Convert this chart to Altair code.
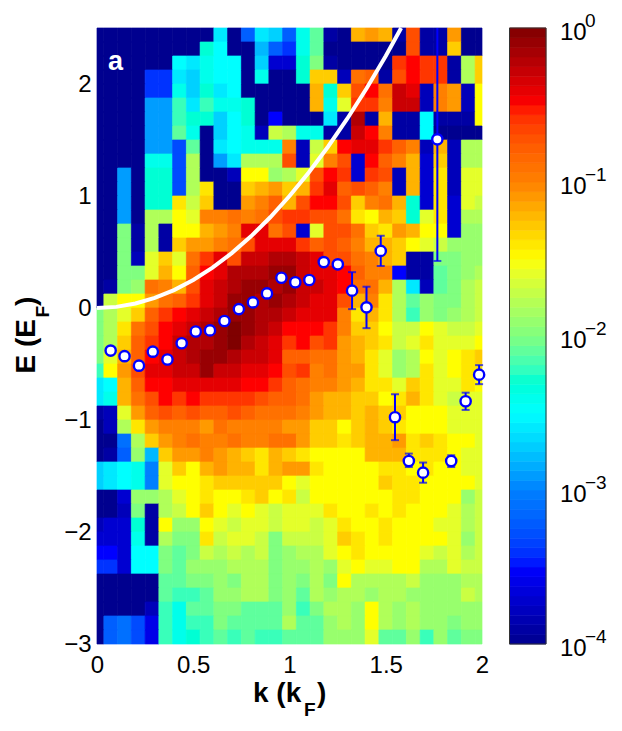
import altair as alt
import pandas as pd

# Heat-map levels: tenths of a decade above 1e-4, one list per energy row (top to bottom), 29 k columns
r00 = [0,0,0,0,0,0,0,0,0,14,0,8,14,13,8,16,19,1,0,28,29,28,1,33,1,1,29,0,0]
r01 = [0,0,0,0,0,0,0,0,17,15,0,0,12,8,6,16,19,0,0,0,0,0,0,33,1,1,27,0,0]
r02 = [0,0,0,0,0,0,15,14,16,15,15,0,13,3,3,17,20,1,0,0,0,0,34,35,34,34,1,22,27]
r03 = [0,0,0,0,6,6,14,13,16,15,15,0,16,0,0,17,27,27,2,31,32,1,33,35,34,34,1,22,27]
r04 = [0,0,0,0,6,6,16,13,17,14,15,0,0,0,0,0,28,17,27,33,35,31,37,36,2,30,29,2,25]
r05 = [0,0,0,0,11,11,18,14,18,16,16,17,0,0,0,0,28,16,24,34,34,30,37,37,2,30,29,2,25]
r06 = [0,0,0,0,11,11,18,17,17,13,15,17,0,5,0,0,0,14,1,38,1,28,1,1,15,1,1,1,25]
r07 = [0,0,0,0,11,11,19,16,0,13,15,16,2,23,22,16,16,1,1,37,35,30,1,1,15,0,0,0,0]
r08 = [0,0,0,0,11,11,7,19,0,14,15,16,16,16,30,2,23,27,35,36,36,34,32,30,2,28,2,22,22]
r09 = [0,0,0,0,16,16,7,22,0,11,14,22,22,22,33,2,24,30,33,3,35,32,30,28,3,27,2,22,22]
r10 = [0,0,11,0,17,17,7,22,0,0,2,25,25,21,22,24,33,35,34,3,34,33,2,28,3,26,2,24,24]
r11 = [0,0,11,0,17,17,7,22,26,0,0,27,28,29,27,28,34,36,32,33,32,30,2,28,3,26,2,24,24]
r12 = [0,0,11,0,17,17,26,23,27,0,0,29,30,32,28,33,35,35,33,27,30,31,28,17,3,26,3,24,23]
r13 = [0,0,11,0,22,22,25,24,30,30,31,30,31,33,34,34,33,33,31,26,25,28,27,17,24,26,3,22,22]
r14 = [0,0,20,1,22,1,25,25,28,29,30,36,36,31,33,3,24,33,33,31,27,26,29,28,25,25,3,21,21]
r15 = [0,0,20,1,22,1,27,29,29,30,31,33,36,36,36,34,32,33,32,30,28,28,27,25,24,23,21,21,21]
r16 = [0,0,20,2,24,27,24,31,34,36,33,37,37,38,38,37,36,33,33,31,30,28,27,1,1,20,20,21,21]
r17 = [0,0,20,20,24,28,25,32,35,36,38,38,38,39,39,37,36,36,35,32,30,30,5,1,1,19,20,21,22]
r18 = [0,1,20,21,31,30,28,33,36,37,38,39,39,38,39,37,37,36,35,31,31,28,22,14,2,19,20,22,23]
r19 = [0,23,25,25,29,31,32,34,36,37,39,39,38,39,38,37,36,36,33,28,30,26,22,19,21,20,20,22,23]
r20 = [20,22,24,27,32,34,35,36,37,38,39,39,38,38,37,36,36,36,30,26,28,26,22,18,21,20,21,22,23]
r21 = [20,22,26,31,33,35,36,37,38,39,40,39,38,37,35,35,35,34,30,27,27,25,23,23,25,24,23,23,24]
r22 = [20,22,27,32,34,35,37,38,38,39,40,38,37,36,34,35,33,34,29,28,27,26,23,24,26,24,24,24,25]
r23 = [20,24,28,32,35,36,37,38,39,39,38,37,37,36,32,32,31,31,29,28,26,24,21,22,25,24,25,26,27]
r24 = [18,25,29,33,36,36,37,37,39,37,37,36,36,35,33,34,30,31,29,29,26,24,21,22,26,24,25,26,26]
r25 = [14,15,28,32,35,35,36,36,36,36,36,35,35,34,32,31,30,30,29,28,26,26,24,27,26,24,24,26,25]
r26 = [14,16,28,31,33,35,34,35,34,34,34,34,33,32,32,31,29,28,28,27,27,25,26,28,26,24,23,24,24]
r27 = [1,2,24,29,32,33,32,33,32,32,33,32,31,31,31,30,29,28,28,27,28,27,27,25,25,25,24,24,24]
r28 = [0,2,22,26,29,30,30,30,29,31,30,30,30,30,29,29,27,27,25,27,28,27,26,25,25,25,24,24,24]
r29 = [0,0,9,22,27,29,30,31,30,30,31,30,30,31,31,29,27,27,26,27,28,28,29,26,27,26,25,25,24]
r30 = [0,1,8,21,12,27,29,29,30,29,28,27,26,28,27,26,25,25,25,25,28,28,28,26,26,26,25,24,24]
r31 = [13,14,15,16,10,24,27,25,28,29,28,28,26,28,29,29,26,25,25,25,25,26,26,25,26,25,25,24,24]
r32 = [13,14,15,16,10,24,25,25,26,27,27,27,27,27,25,24,25,25,25,25,25,27,26,26,25,25,25,25,24]
r33 = [0,0,3,21,21,22,24,25,26,25,25,26,27,25,26,23,25,25,25,25,25,25,26,26,25,25,25,21,23]
r34 = [0,0,2,20,1,22,23,25,27,25,24,25,24,23,24,24,24,26,25,25,26,25,26,25,25,25,24,22,23]
r35 = [2,3,3,17,1,25,21,21,25,24,23,24,24,23,24,24,23,24,26,25,25,26,25,25,25,24,24,22,23]
r36 = [3,3,3,16,1,22,20,20,26,23,24,24,23,20,23,23,23,24,27,26,25,26,25,25,25,25,24,21,23]
r37 = [5,5,3,15,15,20,19,20,23,22,23,22,23,20,21,22,22,24,25,26,25,25,25,25,24,23,24,22,23]
r38 = [6,6,3,15,15,20,19,21,21,21,22,22,22,20,21,21,22,21,24,25,24,24,25,25,22,22,24,23,23]
r39 = [0,0,0,0,0,19,19,20,20,21,20,22,22,20,21,20,22,20,25,22,22,22,22,23,21,21,21,22,22]
r40 = [0,0,0,0,0,19,18,18,19,21,21,22,22,20,21,19,22,21,22,22,21,22,22,21,21,21,21,23,22]
r41 = [0,0,0,0,2,18,16,19,19,20,20,19,19,19,21,18,20,22,22,21,25,22,21,22,21,21,21,21,21]
r42 = [0,8,9,7,4,18,16,18,18,20,19,19,19,19,22,19,19,21,22,21,25,22,21,22,21,21,20,21,21]
r43 = [0,8,9,7,4,18,16,17,18,19,18,19,18,18,19,19,19,21,21,21,24,19,19,21,18,21,19,20,20]
rows = [r00,r01,r02,r03,r04,r05,r06,r07,r08,r09,r10,r11,r12,r13,r14,r15,r16,r17,r18,r19,r20,r21,
        r22,r23,r24,r25,r26,r27,r28,r29,r30,r31,r32,r33,r34,r35,r36,r37,r38,r39,r40,r41,r42,r43]

# Dispersion points with error bars
pt_k = [0.071,0.143,0.218,0.29,0.366,0.44,0.513,0.587,0.662,0.737,0.81,0.883,0.958,1.03,1.103,1.178,1.251,
        1.325,1.4,1.474,1.548,1.62,1.694,1.768,1.84,1.915,1.985]
pt_E = [-0.38,-0.43,-0.515,-0.39,-0.46,-0.315,-0.21,-0.20,-0.116,-0.01,0.05,0.13,0.27,0.23,0.25,0.41,0.39,
        0.155,0.006,0.51,-0.975,-1.366,-1.47,1.506,-1.366,-0.833,-0.595]
err_k = [1.325,1.4,1.474,1.548,1.62,1.694,1.768,1.84,1.915,1.985]
err_lo = [-0.01,-0.18,0.375,-1.18,-1.42,-1.56,0.42,-1.42,-0.91,-0.68]
err_hi = [0.32,0.19,0.645,-0.77,-1.30,-1.38,2.5,-1.315,-0.756,-0.51]

# White curve
curve_k = [0,0.1,0.2,0.3,0.4,0.5,0.6,0.7,0.8,0.9,1.0,1.1,1.2,1.3,1.4,1.5,1.58]
curve_E = [0,0.01,0.04,0.09,0.16,0.25,0.36,0.49,0.64,0.81,1.0,1.21,1.44,1.69,1.96,2.25,2.5]

# Colour bar
cb_ticks = [1, 0.1, 0.01, 0.001, 0.0001]
cb_exp = ["0", "\u22121", "\u22122", "\u22123", "\u22124"]
jet_stops = [1e-4, 10**-3.5, 1e-3, 10**-2.5, 1e-2, 10**-1.5, 1e-1, 10**-0.5, 1]
jet_colors = ["#00008f","#0000ff","#0080ff","#00ffff","#80ff80","#ffff00","#ff8000","#ff0000","#800000"]

FONT = "Liberation Sans"
dk = 2 / 28
cells = []
for n, row in enumerate(rows):
    assert len(row) == 29, n
    for i, v in enumerate(row):
        cells.append(dict(k0=max(0, (i - 0.5) * dk), k1=min(2, (i + 0.5) * dk),
                          E0=2.5 - n * 0.125, E1=2.5 - (n + 1) * 0.125, val=10 ** (-4 + v / 10)))
cells = pd.DataFrame(cells)

cscale = alt.Scale(type="log", domain=jet_stops, range=jet_colors)
color = alt.Color("val:Q", scale=cscale, legend=None)
stroke = alt.Stroke("val:Q", scale=cscale, legend=None)
xs = alt.Scale(domain=[0, 2], nice=False, zero=False)
ys = alt.Scale(domain=[-3, 2.5], nice=False, zero=False)
xaxis = alt.Axis(values=[0, 0.5, 1, 1.5, 2], format="~g", title=None, grid=False, domain=False, ticks=False,
                 labelFontSize=24, labelFont=FONT, labelColor="black", labelPadding=9, labelFlush=False,
                 labelOverlap=False)

heat = alt.Chart(cells).mark_rect(strokeWidth=0.7).encode(
    x=alt.X("k0:Q", scale=xs, axis=xaxis),
    x2="k1:Q",
    y=alt.Y("E0:Q", scale=ys, axis=alt.Axis(values=[-3, -2, -1, 0, 1, 2], title=None, grid=False, domain=False,
                                            ticks=False, labelFontSize=24, labelFont=FONT, labelColor="black",
                                            labelPadding=6, labelFlush=False, labelOverlap=False)),
    y2="E1:Q",
    color=color,
    stroke=stroke,
)

curve = alt.Chart(pd.DataFrame({"k": curve_k, "E": curve_E})).mark_line(color="white", strokeWidth=4).encode(
    x=alt.X("k:Q", scale=xs, axis=xaxis), y=alt.Y("E:Q", scale=ys, axis=None))

err = pd.DataFrame({"k": err_k, "lo": err_lo, "hi": err_hi})
bars = alt.Chart(err).mark_rule(color="#0000ff", strokeWidth=2).encode(
    x=alt.X("k:Q", scale=xs, axis=xaxis), y=alt.Y("lo:Q", scale=ys, axis=None), y2="hi:Q")
caps_lo = alt.Chart(err).mark_tick(color="#0000ff", thickness=2, size=8, orient="horizontal").encode(
    x=alt.X("k:Q", scale=xs, axis=xaxis), y=alt.Y("lo:Q", scale=ys, axis=None))
caps_hi = alt.Chart(err[err.hi < 2.5]).mark_tick(color="#0000ff", thickness=2, size=8, orient="horizontal").encode(
    x=alt.X("k:Q", scale=xs, axis=xaxis), y=alt.Y("hi:Q", scale=ys, axis=None))
points = alt.Chart(pd.DataFrame({"k": pt_k, "E": pt_E})).mark_point(
    filled=False, fill="white", fillOpacity=1, color="#0000ff", stroke="#0000ff", strokeWidth=2.4, opacity=1, size=105,
    shape="circle").encode(x=alt.X("k:Q", scale=xs, axis=xaxis), y=alt.Y("E:Q", scale=ys, axis=None))

def label(text, x, y, size, angle=0):
    return alt.Chart(pd.DataFrame({"t": [text]})).mark_text(
        font=FONT, fontWeight="bold", fontSize=size, align="left", baseline="alphabetic", angle=angle,
        color="black").encode(text="t:N", x=alt.value(x), y=alt.value(y))

panel_a = alt.Chart(pd.DataFrame({"t": ["a"]})).mark_text(
    font=FONT, fontWeight="bold", fontSize=27, align="left", baseline="alphabetic", color="white"
).encode(text="t:N", x=alt.value(11), y=alt.value(42))

y_t1 = label("E (E", -62, 345.5, 28, 270)
y_t2 = label("F", -48, 289.5, 19, 270)
y_t3 = label(")", -62, 278, 28, 270)
x_t1 = label("k (k", 156, 674, 28)
x_t2 = label("F", 207, 688, 19)
x_t3 = label(")", 220, 674, 28)

# Colour bar strip, on its own log position scale
cb_scale = alt.Scale(type="log", domain=[1e-4, 1], nice=False)
cb = pd.DataFrame({"j": range(64)})
cb["v0"] = 10 ** (-4 + cb.j / 16)
cb["v1"] = 10 ** (-4 + (cb.j + 1) / 16)
cb["val"] = 10 ** (-4 + (cb.j + 0.5) / 16)
strip = alt.Chart(cb).mark_rect(strokeWidth=0.7).encode(
    x=alt.value(412.5), x2=alt.value(449),
    y=alt.Y("v0:Q", scale=cb_scale, axis=None), y2="v1:Q", color=color, stroke=stroke)
frame = alt.Chart(pd.DataFrame({"a": [0]})).mark_rect(fill=None, stroke="#333333", strokeWidth=1).encode(
    x=alt.value(412.5), x2=alt.value(449), y=alt.value(0), y2=alt.value(616))
tick_df = pd.DataFrame({"v": cb_ticks, "b": ["10"] * 5, "e": cb_exp})
cb_base = alt.Chart(tick_df).mark_text(font=FONT, fontSize=24, align="left", baseline="alphabetic", dy=12,
                                       color="black").encode(
    text="b:N", x=alt.value(463), y=alt.Y("v:Q", scale=cb_scale, axis=None))
cb_exps = alt.Chart(tick_df).mark_text(font=FONT, fontSize=19, align="left", baseline="alphabetic", dy=-1,
                                       color="black").encode(
    text="e:N", x=alt.value(488), y=alt.Y("v:Q", scale=cb_scale, axis=None))

chart = alt.layer(heat, curve, bars, caps_lo, caps_hi, points, panel_a, y_t1, y_t2, y_t3, x_t1, x_t2, x_t3,
                  strip, frame, cb_base, cb_exps).resolve_scale(y="independent").properties(
    width=385, height=616,
    autosize=alt.AutoSizeParams(type="none"),
    padding={"left": 89, "top": 20, "right": 130, "bottom": 75},
    background="white",
).configure_view(stroke=None)

chart.save("out.html", embed_options={"renderer": "svg", "actions": False})
